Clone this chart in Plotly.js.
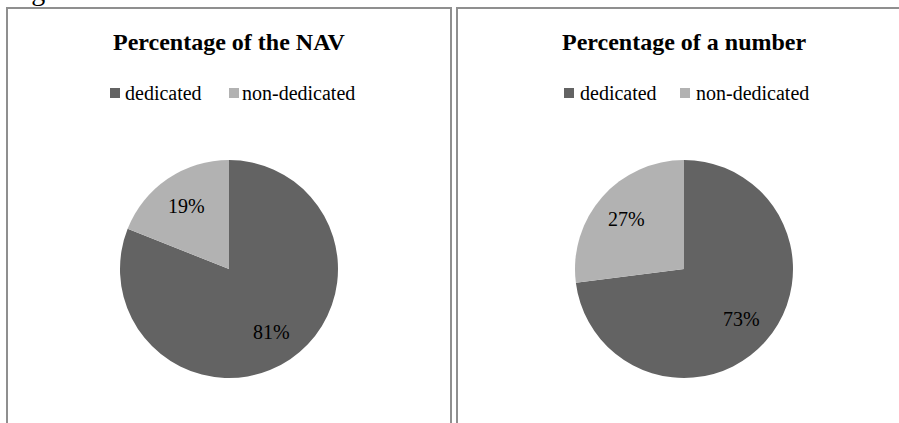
<!DOCTYPE html>
<html>
<head>
<meta charset="utf-8">
<script src="https://cdn.plot.ly/plotly-3.0.1.min.js"></script>
<style>html,body{margin:0;padding:0;background:#fff;}#chart{width:899px;height:423px;}</style>
</head>
<body>
<div id="chart"></div>
<script>
const categories = ["dedicated", "non-dedicated"];
const navShare = [81, 19];
const numberShare = [73, 27];
const chartTitles = ["Percentage of the NAV", "Percentage of a number"];
const sliceColors = ["#636363", "#b2b2b2"];
const figCaption = "Fig. 5.";

const W = 899, H = 423;
const px = v => v / W;
const py = v => 1 - v / H;
const serif = "Liberation Serif, Times New Roman, serif";

// layout geometry (pixels)
const panels = [
  {cx: 229, cy: 269, r: 109, left: 7, right: 451, legend: [[110, 123], [229, 240]]},
  {cx: 684, cy: 269, r: 109, left: 457, right: 910, legend: [[564, 578], [680, 694]]}
];
const seriesList = [navShare, numberShare];

const data = seriesList.map((vals, i) => {
  const p = panels[i];
  return {
    type: "pie",
    labels: categories,
    values: vals,
    sort: false,
    direction: "clockwise",
    rotation: 0,
    marker: {colors: sliceColors, line: {width: 0}},
    textinfo: "none",
    hoverinfo: "label+percent",
    showlegend: false,
    domain: {x: [px(p.cx - p.r), px(p.cx + p.r)], y: [py(p.cy + p.r), py(p.cy - p.r)]}
  };
});

const shapes = [];
const annotations = [];

panels.forEach((p, i) => {
  shapes.push({type: "rect", xref: "paper", yref: "paper", x0: px(p.left), x1: px(p.right), y0: py(440), y1: py(8), line: {color: "#8f8f8f", width: 2}});
  annotations.push({text: "<b>" + chartTitles[i] + "</b>", xref: "paper", yref: "paper", x: px(p.cx), y: py(42), xanchor: "center", yanchor: "middle", showarrow: false, font: {family: serif, size: 24, color: "#000"}});
  // legend: squares + labels
  categories.forEach((c, k) => {
    const [sx, tx] = p.legend[k];
    shapes.push({type: "rect", xref: "paper", yref: "paper", x0: px(sx), x1: px(sx + 10), y0: py(98), y1: py(88), fillcolor: sliceColors[k], line: {width: 0}});
    annotations.push({text: c, xref: "paper", yref: "paper", x: px(tx), y: py(93), xanchor: "left", yanchor: "middle", showarrow: false, font: {family: serif, size: 20, color: "#000"}});
  });
  // slice percentage labels at 0.7 r along each slice's mid-angle
  const vals = seriesList[i];
  const total = vals.reduce((a, b) => a + b, 0);
  let cum = 0;
  vals.forEach(v => {
    const mid = (cum + v / 2) / total * 2 * Math.PI;
    cum += v;
    const lx = p.cx + 0.7 * p.r * Math.sin(mid);
    const ly = p.cy - 0.7 * p.r * Math.cos(mid);
    annotations.push({text: Math.round(v / total * 100) + "%", xref: "paper", yref: "paper", x: px(lx), y: py(ly), xanchor: "center", yanchor: "middle", showarrow: false, font: {family: serif, size: 20, color: "#000"}});
  });
});

annotations.push({text: figCaption, xref: "paper", yref: "paper", x: px(6), y: py(8.5), xanchor: "left", yanchor: "bottom", showarrow: false, font: {family: serif, size: 28, color: "#000"}});

const layout = {
  width: W, height: H,
  margin: {l: 0, r: 0, t: 0, b: 0},
  paper_bgcolor: "#fff",
  showlegend: false,
  shapes: shapes,
  annotations: annotations
};

Plotly.newPlot("chart", data, layout, {displayModeBar: false, staticPlot: true});
</script>
</body>
</html>
